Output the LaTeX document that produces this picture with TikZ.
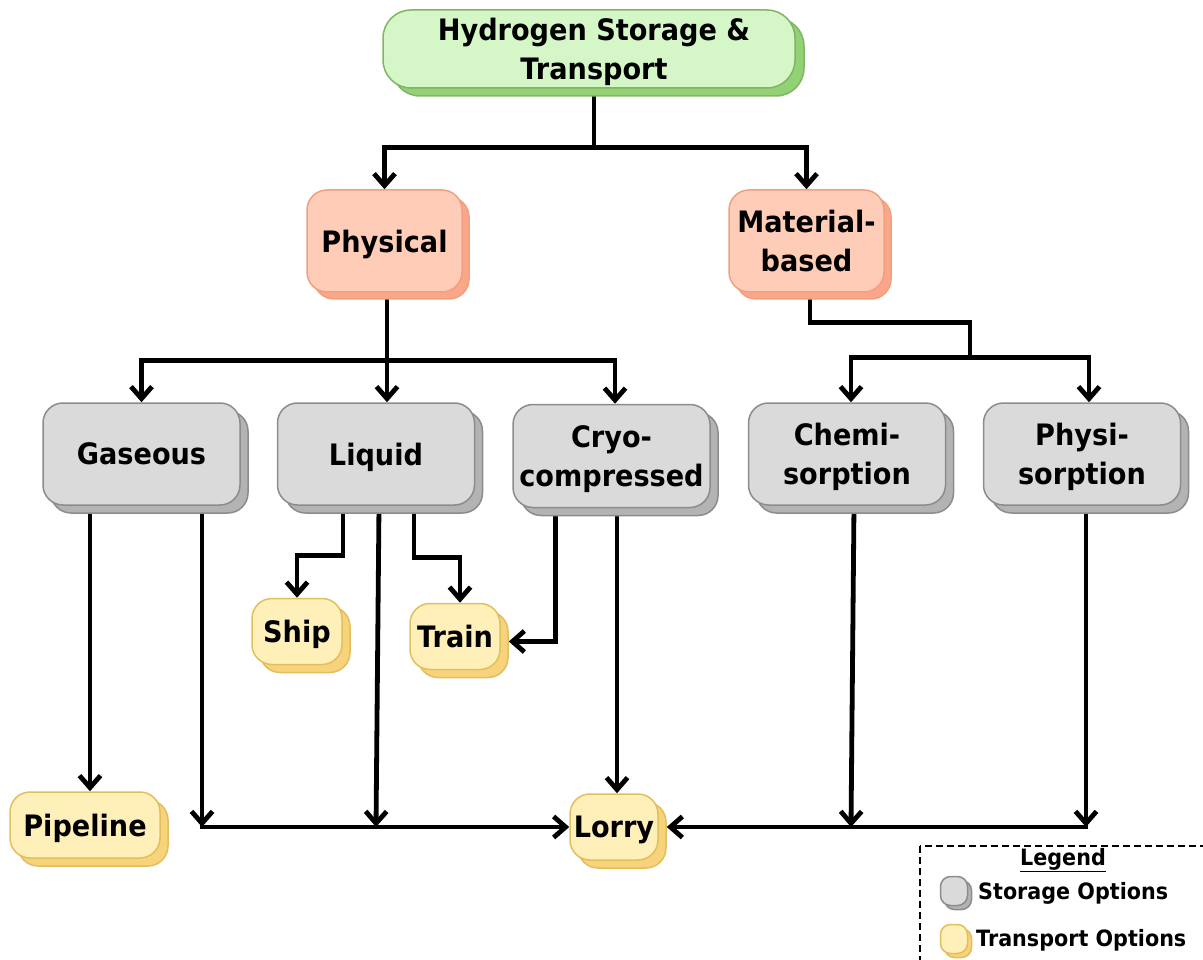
\documentclass[tikz,border=0pt]{standalone}
\usepackage{fontspec}
\setmainfont{DejaVu Sans}[FakeStretch=0.92]
\usetikzlibrary{arrows.meta,shadows,backgrounds}

\definecolor{gfill}{HTML}{D5F7C8}
\definecolor{gline}{HTML}{82B366}
\definecolor{gshade}{HTML}{92D174}
\definecolor{rfill}{HTML}{FFCCB8}
\definecolor{rline}{HTML}{F0A080}
\definecolor{rshade}{HTML}{FBA688}
\definecolor{sfill}{HTML}{DADADA}
\definecolor{sline}{HTML}{8C8C8C}
\definecolor{sshade}{HTML}{B3B3B3}
\definecolor{tfill}{HTML}{FFF0BA}
\definecolor{tline}{HTML}{E2BE5C}
\definecolor{tshade}{HTML}{F7D47C}

\tikzset{
  box/.style={rounded corners=20pt, line width=1.5pt, align=center, inner sep=0pt,
    text depth=0pt, font=\bfseries\fontsize{29.5}{39}\selectfont},
  rootbox/.style={box, rounded corners=28pt, fill=gfill, draw=gline,
    copy shadow={shadow xshift=9pt, shadow yshift=-8pt, fill=gshade, draw=gline, line width=1.5pt}},
  groupbox/.style={box, fill=rfill, draw=rline,
    copy shadow={shadow xshift=7pt, shadow yshift=-7pt, fill=rshade, draw=rline, line width=1.5pt},
    minimum width=155pt, minimum height=102pt},
  storebox/.style={box, fill=sfill, draw=sline,
    copy shadow={shadow xshift=8pt, shadow yshift=-8pt, fill=sshade, draw=sline, line width=1.5pt},
    minimum width=197pt, minimum height=102pt},
  movebox/.style={box, fill=tfill, draw=tline,
    copy shadow={shadow xshift=8pt, shadow yshift=-8pt, fill=tshade, draw=tline, line width=1.5pt},
    minimum height=66pt},
  conn/.style={line width=4.8pt, line join=miter, line cap=rect},
  arr/.style={conn, -{Straight Barb[length=12pt,width=21pt]}},
  legtext/.style={font=\bfseries\fontsize{22.5}{26}\selectfont, inner sep=0pt},
  legkey/.style={box, rounded corners=10pt, minimum width=27pt, minimum height=29pt},
}

\begin{document}
\begin{tikzpicture}[x=1pt,y=-1pt]
\useasboundingbox (0,0) rectangle (1203,960);

% hierarchy
\node[rootbox, minimum width=412pt, minimum height=78pt] (top) at (589,49)
  {\hspace*{10pt}Hydrogen Storage \&\\\hspace*{10pt}Transport};
\node[groupbox] (phys) at (384.5,241) {Physical};
\node[groupbox] (mat) at (806.5,241) {Material-\\based};

\node[storebox] (gas) at (141.5,454) {Gaseous};
\node[storebox] (liq) at (376,454) {Liquid};
\node[storebox, minimum height=103pt] (cryo) at (611.5,456) {Cryo-\\compressed};
\node[storebox] (chem) at (847,454) {Chemi-\\sorption};
\node[storebox] (phy) at (1082,454) {Physi-\\sorption};

\node[movebox, minimum width=90pt] (ship) at (297,631.5) {Ship};
\node[movebox, minimum width=90pt] (train) at (455,636.5) {Train};
\node[movebox, minimum width=150pt] (pipe) at (85,825) {Pipeline};
\node[movebox, minimum width=88pt] (lorry) at (614,827) {Lorry};

% connectors
\begin{pgfonlayer}{background}
\draw[arr] ([xshift=5pt]top.south) -- ++(0,59) coordinate (j0) -| (phys.north);
\draw[arr] (j0) -| (mat.north);

\draw[conn] ([xshift=2.5pt]phys.south) -- ++(0,68) coordinate (j1);
\draw[conn] (j1 -| gas.north) -- ([xshift=3.5pt]cryo.north |- j1);
\draw[arr] (j1 -| gas.north) -- (gas.north);
\draw[arr] (j1) -- (j1 |- liq.north);
\draw[arr] ([xshift=3.5pt]cryo.north |- j1) -- ([xshift=3.5pt]cryo.north);

\coordinate (m0) at ([xshift=3.5pt]mat.south);
\coordinate (c0) at ([xshift=4pt]chem.north);
\coordinate (p0) at ([xshift=7pt]phy.north);
\draw[conn] (m0) -- ++(0,30) -- ++(160,0) -- ++(0,35) coordinate (j2);
\draw[conn] (c0 |- j2) -- (p0 |- j2);
\draw[arr] (c0 |- j2) -- (c0);
\draw[arr] (p0 |- j2) -- (p0);

% storage to transport
\coordinate (pA) at ([xshift=5pt]pipe.north);
\draw[arr] (pA |- gas.south) -- (pA);
\coordinate (g2) at ([xshift=60.5pt]gas.south);
\draw[arr] (g2) -- (g2 |- lorry.west) coordinate (g2b);
\draw[arr] (g2b) -- (lorry.west);

\draw[arr] ([xshift=3pt]liq.south) -- (liq.south |- lorry.west);
\draw[arr] ([xshift=-33pt]liq.south) -- ++(0,50) -| (ship.north);
\draw[arr] ([xshift=38pt]liq.south) -- ++(0,52) -| ([xshift=5pt]train.north);

\draw[arr] ([xshift=-56pt]cryo.south) |- ([shift={(8pt,-5pt)}]train.east);
\coordinate (l0) at ([xshift=3pt]lorry.north);
\draw[arr] (l0 |- cryo.south) -- (l0);

\coordinate (c1) at ([xshift=7pt]chem.south);
\draw[arr] (c1) -- ([xshift=4pt]chem.south |- lorry.west);
\coordinate (p1) at ([xshift=4pt]phy.south);
\draw[arr] (p1) -- (p1 |- lorry.west) coordinate (p1b);
\draw[arr] (p1b) -- ([xshift=8pt]lorry.east);
\end{pgfonlayer}

% legend
\draw[dash pattern=on 7pt off 4pt, line width=1.6pt] (920,846) rectangle (1215,975);
\node[legtext] (legtitle) at (1063,860) {\underline{Legend}};
\node[legkey, fill=sfill, draw=sline,
  copy shadow={shadow xshift=4pt, shadow yshift=-4pt, fill=sshade, draw=sline, line width=1.5pt}]
  (kstore) at (954,891) {};
\node[legtext, anchor=west] (tstore) at (978,893) {Storage Options};
\node[legkey, fill=tfill, draw=tline,
  copy shadow={shadow xshift=4pt, shadow yshift=-4pt, fill=tshade, draw=tline, line width=1.5pt}]
  (kmove) at (954,939) {};
\node[legtext, anchor=west] (tmove) at (976,940) {Transport Options};
\end{tikzpicture}
\end{document}
